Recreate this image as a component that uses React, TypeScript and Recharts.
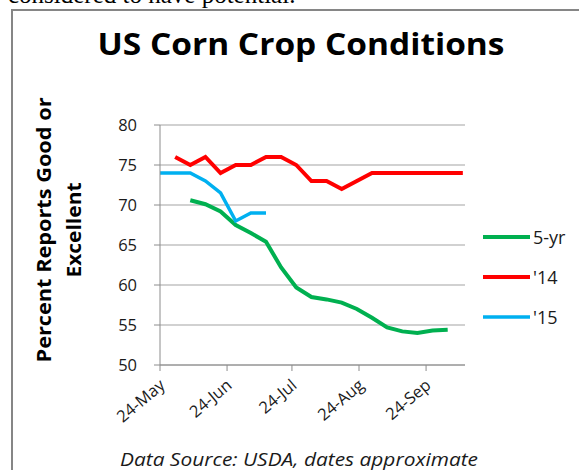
import { CartesianGrid, Line, LineChart, XAxis, YAxis } from "recharts";

const W = 579;
const H = 470;
const FONT = "'Open Sans', sans-serif";
const INK = "#1a1a1a";
const GRID = "#a3a3a3";
const AXIS = "#8c8c8c";

// days since 24-May, one point a week
const DAYS = [0, 7, 14, 21, 28, 35, 42, 49, 56, 63, 70, 77, 84, 91, 98, 105, 112, 119, 126, 133, 140];
const FIVE_YR = [null, null, 70.6, 70.1, 69.2, 67.5, 66.5, 65.4, 62.2, 59.7, 58.5, 58.2, 57.8, 57.0, 55.9, 54.7, 54.2, 54.0, 54.3, 54.4, null];
const Y2014 = [null, 76, 75, 76, 74, 75, 75, 76, 76, 75, 73, 73, 72, 73, 74, 74, 74, 74, 74, 74, 74];
const Y2015 = [74, 74, 74, 73, 71.5, 68, 69, 69, null, null, null, null, null, null, null, null, null, null, null, null, null];

const TICK_DAYS = [0, 31, 61, 92, 123];
const TICK_LABELS = ["24-May", "24-Jun", "24-Jul", "24-Aug", "24-Sep"];
const Y_TICKS = [50, 55, 60, 65, 70, 75, 80];

const SERIES = [
  { key: "fiveYr", name: "5-yr", color: "#00b050", width: 4 },
  { key: "y14", name: "'14", color: "#ff0000", width: 4 },
  { key: "y15", name: "'15", color: "#00b0f0", width: 3.5 },
];

const data = DAYS.map((day, i) => ({
  day,
  fiveYr: FIVE_YR[i],
  y14: Y2014[i],
  y15: Y2015[i],
}));

function DateTick({ x, y, payload }: any) {
  const i = TICK_DAYS.indexOf(payload.value);
  const bx = x + 6;
  const by = y + 16;
  return (
    <text
      x={bx}
      y={by}
      transform={`rotate(-40 ${bx} ${by})`}
      textAnchor="end"
      fontSize={16.5}
      fontFamily={FONT}
      fill={INK}
    >
      {TICK_LABELS[i]}
    </text>
  );
}

export default function App() {
  return (
    <div style={{ position: "absolute", left: 0, top: 0, width: W, height: H, overflow: "hidden", background: "#fff" }}>
      <div
        style={{
          position: "absolute",
          left: 11,
          top: 9,
          width: 700,
          height: 600,
          borderLeft: "2px solid #868686",
          borderTop: "2px solid #868686",
        }}
      />
      <LineChart
        width={W}
        height={H}
        data={data}
        margin={{ top: 125, right: 114, left: 120, bottom: 65 }}
        style={{ position: "absolute", left: 0, top: 0 }}
      >
        <CartesianGrid stroke={GRID} vertical={false} />
        <XAxis
          dataKey="day"
          type="number"
          domain={[0, 141]}
          ticks={TICK_DAYS}
          height={40}
          tick={<DateTick />}
          tickSize={6}
          tickMargin={0}
          stroke={AXIS}
          interval={0}
        />
        <YAxis
          domain={[50, 80]}
          ticks={Y_TICKS}
          width={40}
          tickSize={6}
          tickMargin={17}
          stroke={AXIS}
          tick={{ fontSize: 16.5, fill: INK, fontFamily: FONT }}
          interval={0}
        />
        {SERIES.map((s) => (
          <Line
            key={s.key}
            dataKey={s.key}
            name={s.name}
            stroke={s.color}
            strokeWidth={s.width}
            dot={false}
            type="linear"
            isAnimationActive={false}
          />
        ))}
      </LineChart>
      <svg width={W} height={H} style={{ position: "absolute", left: 0, top: 0, pointerEvents: "none" }}>
        <text x={8} y={3} fontSize={25} fontFamily="'Liberation Serif', serif" fill="#000">
          considered to have potential.
        </text>
        <text
          x={301}
          y={55}
          textAnchor="middle"
          fontSize={30}
          fontWeight="bold"
          fontFamily={FONT}
          fill="#000"
          textLength={407}
          lengthAdjust="spacingAndGlyphs"
        >
          US Corn Crop Conditions
        </text>
        <text
          x={51}
          y={230}
          transform="rotate(-90 51 230)"
          textAnchor="middle"
          fontSize={19}
          fontWeight="bold"
          fontFamily={FONT}
          fill="#000"
          textLength={265}
          lengthAdjust="spacingAndGlyphs"
        >
          Percent Reports Good or
        </text>
        <text
          x={81}
          y={230}
          transform="rotate(-90 81 230)"
          textAnchor="middle"
          fontSize={19}
          fontWeight="bold"
          fontFamily={FONT}
          fill="#000"
          textLength={95}
          lengthAdjust="spacingAndGlyphs"
        >
          Excellent
        </text>
        {SERIES.map((s, i) => (
          <g key={s.key}>
            <line x1={483} x2={530} y1={237 + i * 40} y2={237 + i * 40} stroke={s.color} strokeWidth={s.width} />
            <text x={533} y={237 + i * 40} dominantBaseline="central" fontSize={18} fontFamily={FONT} fill={INK}>
              {s.name}
            </text>
          </g>
        ))}
        <text
          x={299}
          y={466}
          textAnchor="middle"
          fontSize={18}
          fontStyle="italic"
          fontFamily={FONT}
          fill={INK}
          textLength={358}
          lengthAdjust="spacingAndGlyphs"
        >
          Data Source: USDA, dates approximate
        </text>
      </svg>
    </div>
  );
}
